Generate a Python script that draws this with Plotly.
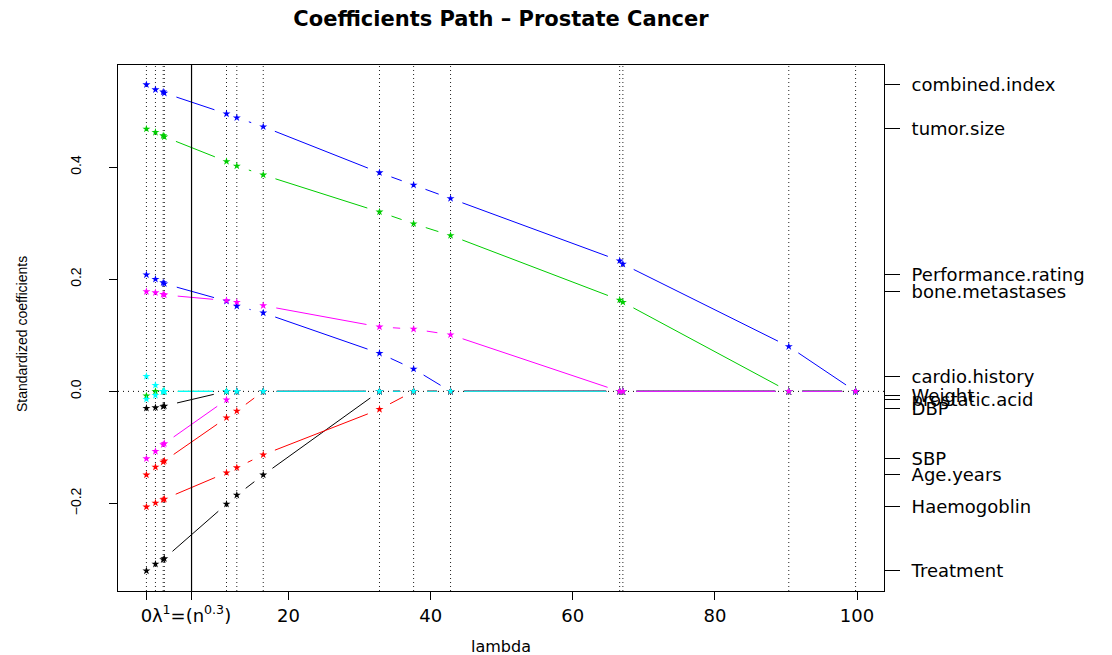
import math
import plotly.graph_objects as go

# ---------------- data ----------------
lambdas = [0.0, 1.27, 2.36, 2.52, 11.27, 12.72, 16.44, 32.8, 37.6, 42.8, 66.6, 67.05, 90.4, 99.8]
lambda_star = 6.35
lambda_star_label = "λ<sup>1</sup>=(n<sup>0.3</sup>)"

treatment = [-0.320, -0.308, -0.300, -0.298, -0.201, -0.185, -0.149, 0.0, 0.0, 0.0, 0.0, 0.0, 0.0, 0.0]
age_years = [-0.149, -0.135, -0.126, -0.124, -0.047, -0.035, 0.0, 0.0, 0.0, 0.0, 0.0, 0.0, 0.0, 0.0]
weight = [-0.008, 0.0, 0.0, 0.0, 0.0, 0.0, 0.0, 0.0, 0.0, 0.0, 0.0, 0.0, 0.0, 0.0]
performance_rating = [0.208, 0.200, 0.194, 0.192, 0.161, 0.152, 0.140, 0.068, 0.040, 0.0, 0.0, 0.0, 0.0, 0.0]
cardio_history = [0.027, 0.011, 0.0, 0.0, 0.0, 0.0, 0.0, 0.0, 0.0, 0.0, 0.0, 0.0, 0.0, 0.0]
sbp = [-0.120, -0.107, -0.095, -0.093, -0.015, 0.0, 0.0, 0.0, 0.0, 0.0, 0.0, 0.0, 0.0, 0.0]
dbp = [-0.030, -0.029, -0.027, -0.026, 0.0, 0.0, 0.0, 0.0, 0.0, 0.0, 0.0, 0.0, 0.0, 0.0]
haemogoblin = [-0.206, -0.199, -0.193, -0.192, -0.145, -0.136, -0.113, -0.032, 0.0, 0.0, 0.0, 0.0, 0.0, 0.0]
tumor_size = [0.468, 0.462, 0.456, 0.454, 0.410, 0.402, 0.386, 0.320, 0.299, 0.278, 0.163, 0.159, 0.0, 0.0]
combined_index = [0.547, 0.538, 0.534, 0.532, 0.495, 0.488, 0.472, 0.390, 0.368, 0.344, 0.233, 0.227, 0.080, 0.0]
prostatic_acid = [-0.014, -0.007, 0.0, 0.0, 0.0, 0.0, 0.0, 0.0, 0.0, 0.0, 0.0, 0.0, 0.0, 0.0]
bone_metastases = [0.178, 0.176, 0.173, 0.172, 0.162, 0.159, 0.153, 0.115, 0.111, 0.101, 0.0, 0.0, 0.0, 0.0]

var_names = ["Treatment", "Age.years", "Weight", "Performance.rating", "cardio.history", "SBP",
             "DBP", "Haemogoblin", "tumor.size", "combined.index", "prostatic.acid", "bone.metastases"]
var_values = [treatment, age_years, weight, performance_rating, cardio_history, sbp,
              dbp, haemogoblin, tumor_size, combined_index, prostatic_acid, bone_metastases]
palette = ["#000000", "#FF0000", "#00CD00", "#0000FF", "#00FFFF", "#FF00FF"]

x_ticks = [0, 20, 40, 60, 80, 100]
y_ticks = [-0.2, 0.0, 0.2, 0.4]

# ---------------- layout geometry ----------------
PAGE_OFF = 8                       # browser body margin
W, H = 1112 - PAGE_OFF, 655 - PAGE_OFF
ML, MR, MT, MB = 118 - PAGE_OFF, 228, 65 - PAGE_OFF, 64
PLOT_W = W - ML - MR
PLOT_H = H - MT - MB
XR = [-4.0, 103.8]
YR = [-0.356, 0.582]
STRETCH = 1.5   # horizontal stretch of the original device
GAP = 9.0       # gap around points (type = "b")

SANS = "Liberation Sans, Arial, sans-serif"
WIDE = "DejaVu Sans, sans-serif"


def gapped(xs, ys):
    sx = PLOT_W / (XR[1] - XR[0])
    sy = PLOT_H / (YR[1] - YR[0])
    ox, oy = [], []
    for i in range(len(xs) - 1):
        x0, x1, y0, y1 = xs[i], xs[i + 1], ys[i], ys[i + 1]
        dx = (x1 - x0) * sx / STRETCH
        dy = (y1 - y0) * sy
        L = math.hypot(dx, dy)
        if L <= 2 * GAP:
            continue
        f = GAP / L
        ox += [x0 + f * (x1 - x0), x1 - f * (x1 - x0), None]
        oy += [y0 + f * (y1 - y0), y1 - f * (y1 - y0), None]
    return ox, oy


fig = go.Figure()

for i, (name, vals) in enumerate(zip(var_names, var_values)):
    col = palette[i % len(palette)]
    gx, gy = gapped(lambdas, vals)
    fig.add_trace(go.Scatter(x=gx, y=gy, mode="lines", line=dict(color=col, width=1),
                             showlegend=False, hoverinfo="skip"))
    fig.add_trace(go.Scatter(x=lambdas, y=vals, mode="markers", name=name,
                             marker=dict(symbol="star", size=6, color=col, line=dict(width=0)),
                             showlegend=False))

# invisible trace to carry the right-hand axis
fig.add_trace(go.Scatter(x=[lambdas[0]] * len(var_names), y=[v[0] for v in var_values],
                         yaxis="y2", mode="markers", marker=dict(opacity=0),
                         showlegend=False, hoverinfo="skip"))

shapes = []
for lam in lambdas:
    shapes.append(dict(type="line", xref="x", yref="paper", x0=lam, x1=lam, y0=0, y1=1,
                       line=dict(color="#222222", width=1, dash="1px,3px"), layer="below"))
shapes.append(dict(type="line", xref="paper", yref="y", x0=0, x1=1, y0=0, y1=0,
                   line=dict(color="#000000", width=1, dash="1px,4px"), layer="below"))
shapes.append(dict(type="line", xref="x", yref="paper", x0=lambda_star, x1=lambda_star, y0=0, y1=1,
                   line=dict(color="#000000", width=1.2)))

x_tickvals = [x_ticks[0], lambda_star] + x_ticks[1:]
x_ticktext = [str(x_ticks[0]), lambda_star_label] + [str(t) for t in x_ticks[1:]]

fig.update_layout(
    width=W, height=H,
    margin=dict(l=ML, r=MR, t=MT, b=MB, autoexpand=False),
    paper_bgcolor="white", plot_bgcolor="white",
    shapes=shapes,
    title=dict(text="<b>Coefficients Path – Prostate Cancer</b>",
               font=dict(family=WIDE, size=21, color="black"),
               x=(501 - 118) / PLOT_W, xref="paper", xanchor="center",
               y=1 - (19 - PAGE_OFF) / H, yref="container", yanchor="middle"),
    xaxis=dict(range=XR, showgrid=False, zeroline=False, showline=True, mirror=True,
               linecolor="black", linewidth=1, ticks="outside", ticklen=8, tickcolor="black",
               tickvals=x_tickvals, ticktext=x_ticktext, tickangle=0,
               tickfont=dict(family=WIDE, size=18, color="black"), ticklabelstandoff=0),
    yaxis=dict(range=YR, showgrid=False, zeroline=False, showline=True, mirror=True,
               linecolor="black", linewidth=1, ticks="outside", ticklen=8, tickcolor="black",
               tickvals=y_ticks, tickformat=".1f", tickangle=-90,
               tickfont=dict(family=SANS, size=14, color="black"), ticklabelstandoff=22),
    yaxis2=dict(range=YR, overlaying="y", side="right", showgrid=False, zeroline=False,
                showline=False, ticks="outside", ticklen=15, tickcolor="black",
                tickvals=[v[0] for v in var_values], ticktext=var_names,
                tickfont=dict(family=WIDE, size=18, color="black"), ticklabelstandoff=8),
    annotations=[
        dict(text="lambda", xref="paper", yref="paper", x=(501 - 118) / PLOT_W,
             y=-(646 - 591) / PLOT_H, showarrow=False, xanchor="center", yanchor="middle",
             font=dict(family=WIDE, size=16, color="black")),
        dict(text="Standardized coefficients", xref="paper", yref="paper",
             x=(22 - 118) / PLOT_W, y=(591 - 334) / PLOT_H, textangle=-90,
             showarrow=False, xanchor="center", yanchor="middle",
             font=dict(family=SANS, size=14, color="black")),
    ],
)

fig.write_html("out.html")
